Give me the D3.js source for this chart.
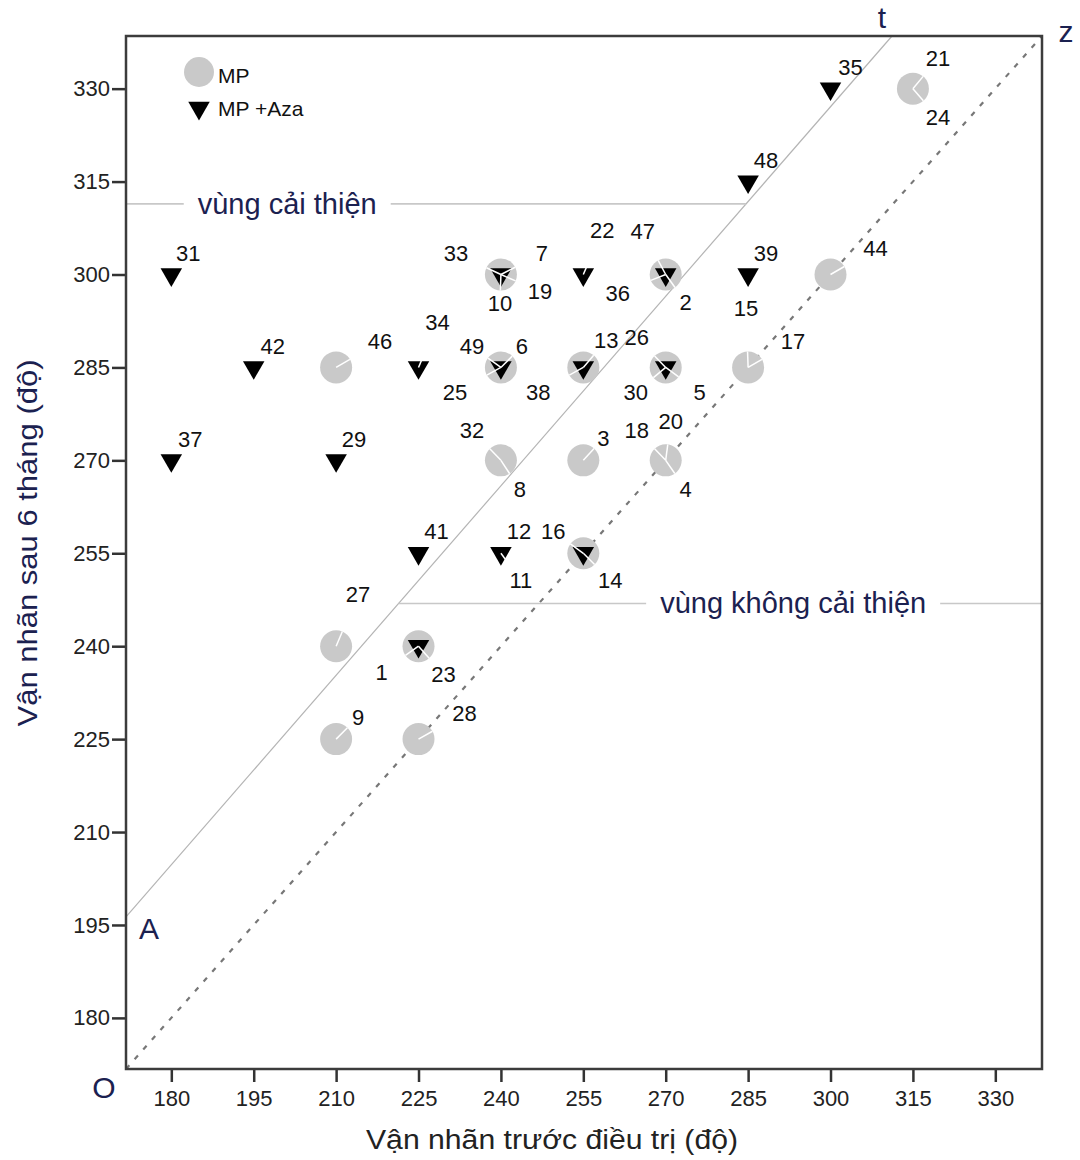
<!DOCTYPE html>
<html>
<head>
<meta charset="utf-8">
<script src="https://cdn.jsdelivr.net/npm/d3@7"></script>
<style>
body { margin: 0; background: #fff; }
text { font-family: "Liberation Sans", Arial, sans-serif; }
</style>
</head>
<body>
<script>
// cases: [id, before treatment, after 6 months, group]
const cases = [
    [35, 300, 330, "MP +Aza"], [21, 315, 330, "MP"], [24, 315, 330, "MP"],
    [48, 285, 315, "MP +Aza"], [31, 180, 300, "MP +Aza"],
    [33, 240, 300, "MP"], [7, 240, 300, "MP +Aza"], [10, 240, 300, "MP +Aza"], [19, 240, 300, "MP"],
    [22, 255, 300, "MP +Aza"],
    [47, 270, 300, "MP +Aza"], [36, 270, 300, "MP"], [2, 270, 300, "MP +Aza"],
    [39, 285, 300, "MP +Aza"], [44, 300, 300, "MP"],
    [34, 225, 285, "MP +Aza"], [46, 210, 285, "MP"], [42, 195, 285, "MP +Aza"],
    [49, 240, 285, "MP"], [6, 240, 285, "MP +Aza"], [25, 240, 285, "MP +Aza"],
    [13, 255, 285, "MP +Aza"], [38, 255, 285, "MP"],
    [26, 270, 285, "MP +Aza"], [30, 270, 285, "MP"], [5, 270, 285, "MP +Aza"],
    [17, 285, 285, "MP"], [15, 285, 285, "MP"],
    [37, 180, 270, "MP +Aza"], [29, 210, 270, "MP +Aza"],
    [32, 240, 270, "MP"], [8, 240, 270, "MP"],
    [3, 255, 270, "MP"],
    [18, 270, 270, "MP"], [20, 270, 270, "MP"], [4, 270, 270, "MP"],
    [41, 225, 255, "MP +Aza"], [12, 240, 255, "MP +Aza"], [11, 240, 255, "MP +Aza"],
    [16, 255, 255, "MP +Aza"], [14, 255, 255, "MP"],
    [27, 210, 240, "MP"], [1, 225, 240, "MP"], [23, 225, 240, "MP +Aza"],
    [9, 210, 225, "MP"], [28, 225, 225, "MP"]
];

const groups = ["MP", "MP +Aza"];
const xTicks = [180, 195, 210, 225, 240, 255, 270, 285, 300, 315, 330];
const yTicks = [180, 195, 210, 225, 240, 255, 270, 285, 300, 315, 330];
const axisDomain = [171.75, 338.5];

// reference lines (data units)
const noChangeLine = [[171.75, 171.75], [338.5, 338.5]];   // z : y = x
const gainLine = [[171.75, 196.3], [311.2, 338.5]];        // t : from A
const improvedLevel = 311.4;
const notImprovedLevel = 246.9;
const regionTexts = [
    {text: "vùng cải thiện", at: 201.1, level: improvedLevel},
    {text: "vùng không cải thiện", at: 293.2, level: notImprovedLevel}
];

// label nudges in px, by case id (label placement only)
const labelNudge = {
    35: [20, -21], 21: [25, -30], 24: [25, 29], 48: [18, -21], 31: [17, -21],
    33: [-45, -21], 7: [41, -21], 10: [-1, 29], 19: [39, 17], 22: [19, -44],
    47: [-23, -43], 36: [-48, 19], 2: [20, 28], 39: [18, -21], 44: [45, -26],
    34: [19, -45], 46: [44, -26], 42: [19, -21], 49: [-29, -21], 6: [21, -21],
    25: [-46, 25], 13: [23, -27], 38: [-45, 25], 26: [-29, -30], 30: [-30, 25],
    5: [34, 25], 17: [45, -26], 15: [-2, -59], 37: [19, -21], 29: [18, -21],
    32: [-29, -30], 8: [19, 29], 3: [20, -22], 18: [-29, -30], 20: [5, -39],
    4: [20, 29], 41: [18, -22], 12: [18, -22], 11: [20, 27], 16: [-30, -22],
    14: [27, 27], 27: [22, -52], 1: [-37, 26], 23: [25, 28], 9: [22, -22],
    28: [46, -26]
};

const width = 1080, height = 1160;
const margin = {top: 36, right: 38, bottom: 91, left: 126};
const r = 16;
const ink = "#1b2150";

const svg = d3.select("body").append("svg")
    .attr("width", width)
    .attr("height", height);

const x = d3.scaleLinear().domain(axisDomain).range([margin.left, width - margin.right]);
const y = d3.scaleLinear().domain(axisDomain).range([height - margin.bottom, margin.top]);

const tri = d3.symbol().type(d3.symbolTriangle).size(200);

// reference lines
svg.append("line")
    .attr("x1", x(noChangeLine[0][0])).attr("y1", y(noChangeLine[0][1]))
    .attr("x2", x(noChangeLine[1][0])).attr("y2", y(noChangeLine[1][1]))
    .style("stroke", "#777")
    .style("stroke-width", 2.2)
    .style("stroke-dasharray", "5,8");

svg.append("line")
    .attr("x1", x(gainLine[0][0])).attr("y1", y(gainLine[0][1]))
    .attr("x2", x(gainLine[1][0])).attr("y2", y(gainLine[1][1]))
    .style("stroke", "#b4b4b4")
    .style("stroke-width", 1.2);

// x where the t line reaches a level
function gainX(level) {
    const [p, q] = gainLine;
    return p[0] + (level - p[1]) * (q[0] - p[0]) / (q[1] - p[1]);
}

svg.append("line")
    .attr("x1", x(axisDomain[0])).attr("x2", x(gainX(improvedLevel)))
    .attr("y1", y(improvedLevel)).attr("y2", y(improvedLevel))
    .style("stroke", "#c8c8c8").style("stroke-width", 1.6);

svg.append("line")
    .attr("x1", x(gainX(notImprovedLevel))).attr("x2", x(axisDomain[1]))
    .attr("y1", y(notImprovedLevel)).attr("y2", y(notImprovedLevel))
    .style("stroke", "#c8c8c8").style("stroke-width", 1.6);

regionTexts.forEach(function(d) {
    const g = svg.append("g");
    const bg = g.append("rect").style("fill", "#fff");
    const t = g.append("text")
        .text(d.text)
        .attr("x", x(d.at))
        .attr("y", y(d.level) + 10)
        .attr("text-anchor", "middle")
        .style("font-size", "29px")
        .style("fill", ink);
    const b = t.node().getBBox();
    bg.attr("x", b.x - 14).attr("y", b.y).attr("width", b.width + 28).attr("height", b.height);
});

// markers, one per location and group
const locations = d3.groups(cases, d => d[1] + "," + d[2]).map(([key, rows]) => ({
    key: key,
    bx: rows[0][1],
    ay: rows[0][2],
    rows: rows,
    hasMP: rows.some(d => d[3] === groups[0]),
    hasAza: rows.some(d => d[3] === groups[1])
}));

svg.append("g").selectAll("circle")
    .data(locations.filter(d => d.hasMP))
    .enter().append("circle")
    .attr("cx", d => x(d.bx))
    .attr("cy", d => y(d.ay))
    .attr("r", r)
    .style("fill", "#c9c9c9");

svg.append("g").selectAll("path")
    .data(locations.filter(d => d.hasAza))
    .enter().append("path")
    .attr("d", tri)
    .attr("transform", d => "translate(" + x(d.bx) + "," + y(d.ay) + ") rotate(180)")
    .style("fill", "#000");

// white leader strokes from the point toward its label
const leaders = [];
locations.forEach(function(loc) {
    loc.rows.forEach(function(row) {
        const [dx, dy] = labelNudge[row[0]];
        const len = Math.hypot(dx, dy);
        if (loc.hasMP || len > 30) {
            const k = (loc.hasMP ? r : 9) / len;
            leaders.push({cx: x(loc.bx), cy: y(loc.ay), ex: dx * k, ey: dy * k});
        }
    });
});

svg.append("g").selectAll("line")
    .data(leaders)
    .enter().append("line")
    .attr("x1", d => d.cx).attr("y1", d => d.cy)
    .attr("x2", d => d.cx + d.ex).attr("y2", d => d.cy + d.ey)
    .style("stroke", "#fff")
    .style("stroke-width", 1.5);

svg.append("g").selectAll("text")
    .data(cases)
    .enter().append("text")
    .text(d => d[0])
    .attr("x", d => x(d[1]) + labelNudge[d[0]][0])
    .attr("y", d => y(d[2]) + labelNudge[d[0]][1])
    .attr("text-anchor", "middle")
    .attr("dominant-baseline", "central")
    .style("font-size", "22px")
    .style("fill", "#111");

// legend
const legend = svg.append("g").attr("transform", "translate(199,72)");
legend.append("circle").attr("r", 15).style("fill", "#c9c9c9");
legend.append("text").text(groups[0]).attr("x", 19).attr("y", 11)
    .style("font-size", "21px").style("fill", "#111");
legend.append("path").attr("d", tri).attr("transform", "translate(0,36) rotate(180)")
    .style("fill", "#000");
legend.append("text").text(groups[1]).attr("x", 19).attr("y", 44)
    .style("font-size", "21px").style("fill", "#111");

// axes
const xAxis = svg.append("g")
    .attr("transform", "translate(0," + (height - margin.bottom) + ")")
    .call(d3.axisBottom(x).tickValues(xTicks).tickSize(13).tickSizeOuter(0).tickPadding(8));

const yAxis = svg.append("g")
    .attr("transform", "translate(" + margin.left + ",0)")
    .call(d3.axisLeft(y).tickValues(yTicks).tickSize(14).tickSizeOuter(0).tickPadding(2));

[xAxis, yAxis].forEach(function(a) {
    a.select(".domain").remove();
    a.selectAll(".tick line").style("stroke", "#333").style("stroke-width", 2.5);
    a.selectAll(".tick text")
        .style("font-family", "'Liberation Sans', Arial, sans-serif")
        .style("font-size", "22px")
        .style("fill", "#222");
});

svg.append("rect")
    .attr("x", margin.left)
    .attr("y", margin.top)
    .attr("width", width - margin.left - margin.right)
    .attr("height", height - margin.top - margin.bottom)
    .style("fill", "none")
    .style("stroke", "#3c3c3c")
    .style("stroke-width", 2.5);

// axis titles
svg.append("text")
    .text("Vận nhãn trước điều trị (độ)")
    .attr("x", 552)
    .attr("y", 1149)
    .attr("text-anchor", "middle")
    .attr("textLength", 372)
    .attr("lengthAdjust", "spacingAndGlyphs")
    .style("font-size", "27px")
    .style("fill", "#222");

svg.append("text")
    .text("Vận nhãn sau 6 tháng (độ)")
    .attr("transform", "translate(37,543) rotate(-90)")
    .attr("text-anchor", "middle")
    .attr("textLength", 367)
    .attr("lengthAdjust", "spacingAndGlyphs")
    .style("font-size", "27px")
    .style("fill", ink);

// corner letters
const letters = [
    {t: "t", px: x(gainLine[1][0]) - 10, py: margin.top - 8},
    {t: "z", px: width - margin.right + 24, py: margin.top + 6},
    {t: "A", px: margin.left + 23, py: y(gainLine[0][1]) + 22},
    {t: "O", px: margin.left - 22, py: height - margin.bottom + 29}
];
svg.append("g").selectAll("text")
    .data(letters)
    .enter().append("text")
    .text(d => d.t)
    .attr("x", d => d.px)
    .attr("y", d => d.py)
    .attr("text-anchor", "middle")
    .style("font-size", "30px")
    .style("fill", ink);
</script>
</body>
</html>
